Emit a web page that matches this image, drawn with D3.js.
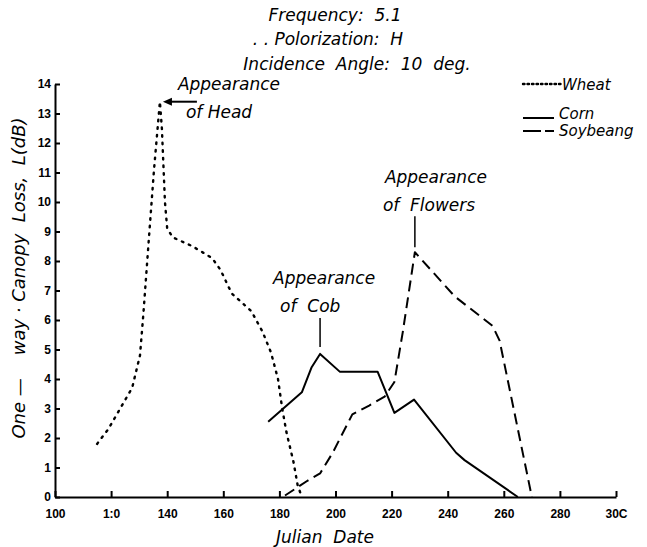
<!DOCTYPE html>
<html>
<head>
<meta charset="utf-8">
<script src="https://cdn.jsdelivr.net/npm/d3@7"></script>
<style>
	body { margin: 0; background: #fff; }
	svg text { font-family: "DejaVu Sans", "Liberation Sans", sans-serif; fill: #000; white-space: pre; }
	.axis path, .axis line { stroke: #000; stroke-width: 2px; }
	.axis text { font-size: 12px; font-weight: bold; font-style: normal; font-family: "Liberation Sans", sans-serif; }
	.note { font-size: 17px; font-style: italic; }
	.legend text { font-size: 15px; }
</style>
</head>
<body>
<div class="chart"><svg></svg></div>
<script>

// DATA (julian day, loss in dB)
var wheatDays   = [115, 119, 127.5, 130.3, 131.5, 133.5, 135.3, 137.4, 138.1, 139.2, 140, 142, 149, 156, 159, 163, 170, 174, 177, 179.5, 181, 182.5, 185, 186.5, 188];
var wheatLoss   = [1.8, 2.3, 3.7, 4.8, 6.2, 8.8, 11.1, 13.4, 12.5, 10, 9.1, 8.8, 8.5, 8.1, 7.7, 6.9, 6.3, 5.6, 4.9, 4, 3, 2.2, 1.2, 0.4, 0];
var cornDays    = [176, 188, 191.5, 194.5, 201.5, 215, 221, 228, 243, 246, 265];
var cornLoss    = [2.55, 3.55, 4.4, 4.85, 4.25, 4.25, 2.85, 3.3, 1.5, 1.25, 0];
var soyDays     = [182, 190, 194.5, 199, 206, 212, 217.5, 221, 224, 228.3, 242.5, 256, 258.5, 270];
var soyLoss     = [0.05, 0.55, 0.8, 1.5, 2.8, 3.1, 3.4, 3.9, 5.6, 8.3, 6.8, 5.8, 5.3, 0];
var xTicks      = [100, 120, 140, 160, 180, 200, 220, 240, 260, 280, 300];
var xTickLabels = ['100', '1:0', '140', '160', '180', '200', '220', '240', '260', '280', '30C'];
var yTicks      = [0, 1, 2, 3, 4, 5, 6, 7, 8, 9, 10, 11, 12, 13, 14];
var titleLines  = ['Frequency:  5.1', '. . Polorization:  H', 'Incidence  Angle:  10  deg.'];
var seriesNames = ['Wheat', 'Corn', 'Soybeang'];

(function() {

	var margin = {top: 84, right: 31, bottom: 50, left: 55};
	var svg = d3.select('.chart svg').attr('width', 647).attr('height', 547);
	var width = 647 - margin.left - margin.right;
	var height = 547 - margin.top - margin.bottom;

	var x = d3.scaleLinear().domain([100, 300]).range([0, width]);
	var y = d3.scaleLinear().domain([0, 14]).range([height, 0]);

	var g = svg.append('g').attr('transform', 'translate(' + margin.left + ',' + margin.top + ')');

	// axes, ticks point inwards
	g.append('g')
		.attr('class', 'axis axis--x')
		.attr('transform', 'translate(0,' + height + ')')
		.call(d3.axisBottom(x).tickValues(xTicks).tickSize(-6).tickSizeOuter(0).tickPadding(12)
			.tickFormat(function(d, i) { return xTickLabels[i]; }));

	g.append('g')
		.attr('class', 'axis axis--y')
		.call(d3.axisLeft(y).tickValues(yTicks).tickSize(-5).tickSizeOuter(0).tickPadding(4));

	g.selectAll('.axis .tick line').attr('stroke-width', 1.5);

	function pairs(days, loss) {
		return days.map(function(d, i) { return [d, loss[i]]; });
	}

	var line = d3.line()
		.x(function(d) { return x(d[0]); })
		.y(function(d) { return y(d[1]); });

	var styles = [
		{data: pairs(wheatDays, wheatLoss), dash: '1.6,6', width: 2.4, cap: 'round'},
		{data: pairs(cornDays, cornLoss), dash: null, width: 2, cap: 'butt'},
		{data: pairs(soyDays, soyLoss), dash: '11,6', width: 2, cap: 'butt'}
	];

	styles.forEach(function(s) {
		g.append('path')
			.datum(s.data)
			.attr('d', line)
			.attr('fill', 'none')
			.attr('stroke', '#000')
			.attr('stroke-width', s.width)
			.attr('stroke-linecap', s.cap)
			.attr('stroke-linejoin', 'round')
			.attr('stroke-dasharray', s.dash);
	});

	// annotations
	function note(tx, ty, lines) {
		var t = g.append('text').attr('class', 'note');
		lines.forEach(function(l, i) {
			t.append('tspan').attr('x', tx + l[0]).attr('y', ty + i * 28).text(l[1]);
		});
	}

	var headX = x(137.4), headY = y(13.4);
	note(headX + 18, 6, [[0, 'Appearance'], [8, 'of Head']]);
	g.append('line').attr('x1', headX + 37).attr('y1', headY).attr('x2', headX + 9).attr('y2', headY)
		.attr('stroke', '#000').attr('stroke-width', 2);
	g.append('path')
		.attr('d', 'M' + (headX + 3) + ',' + headY + 'l9,-4l0,8z')
		.attr('fill', '#000');

	var cobX = x(194.5), cobY = y(4.85);
	note(cobX - 47, cobY - 70, [[0, 'Appearance'], [7, 'of  Cob']]);
	g.append('line').attr('x1', cobX).attr('y1', cobY - 36).attr('x2', cobX).attr('y2', cobY - 7)
		.attr('stroke', '#000').attr('stroke-width', 1.5);

	var flX = x(228.3), flY = y(8.3);
	note(flX - 32, flY - 69, [[2, 'Appearance'], [0, 'of  Flowers']]);
	g.append('line').attr('x1', flX).attr('y1', flY - 36).attr('x2', flX).attr('y2', flY - 5)
		.attr('stroke', '#000').attr('stroke-width', 1.5);

	// title
	var title = svg.append('text').attr('class', 'note').attr('text-anchor', 'middle');
	var titleX = [335, 328, 357];
	var titleY = [21, 45, 70];
	titleLines.forEach(function(l, i) {
		title.append('tspan').attr('x', titleX[i]).attr('y', titleY[i]).text(l);
	});

	// legend
	var legend = svg.append('g').attr('class', 'legend').attr('transform', 'translate(523,0)');
	var legendY = [84, 118, 131];
	styles.forEach(function(s, i) {
		legend.append('line')
			.attr('x1', 0).attr('x2', i == 0 ? 38 : 31)
			.attr('y1', legendY[i]).attr('y2', legendY[i])
			.attr('stroke', '#000')
			.attr('stroke-width', s.width)
			.attr('stroke-linecap', s.cap)
			.attr('stroke-dasharray', i == 0 ? '1.5,3' : (i == 2 ? '18,4' : null));
		legend.append('text').attr('class', 'note')
			.attr('x', i == 0 ? 39 : 36).attr('y', [90, 119, 136][i])
			.text(seriesNames[i]);
	});

	// axis titles
	svg.append('text').attr('class', 'note')
		.attr('text-anchor', 'middle')
		.style('font-size', '18px')
		.attr('transform', 'translate(25,' + 278 + ') rotate(-90)')
		.text('One \u2014    way \u00b7 Canopy  Loss,  L(dB)');

	svg.append('text').attr('class', 'note')
		.attr('text-anchor', 'middle')
		.attr('x', 325).attr('y', 543)
		.text('Julian  Date');

})()
</script>
</body>
</html>
